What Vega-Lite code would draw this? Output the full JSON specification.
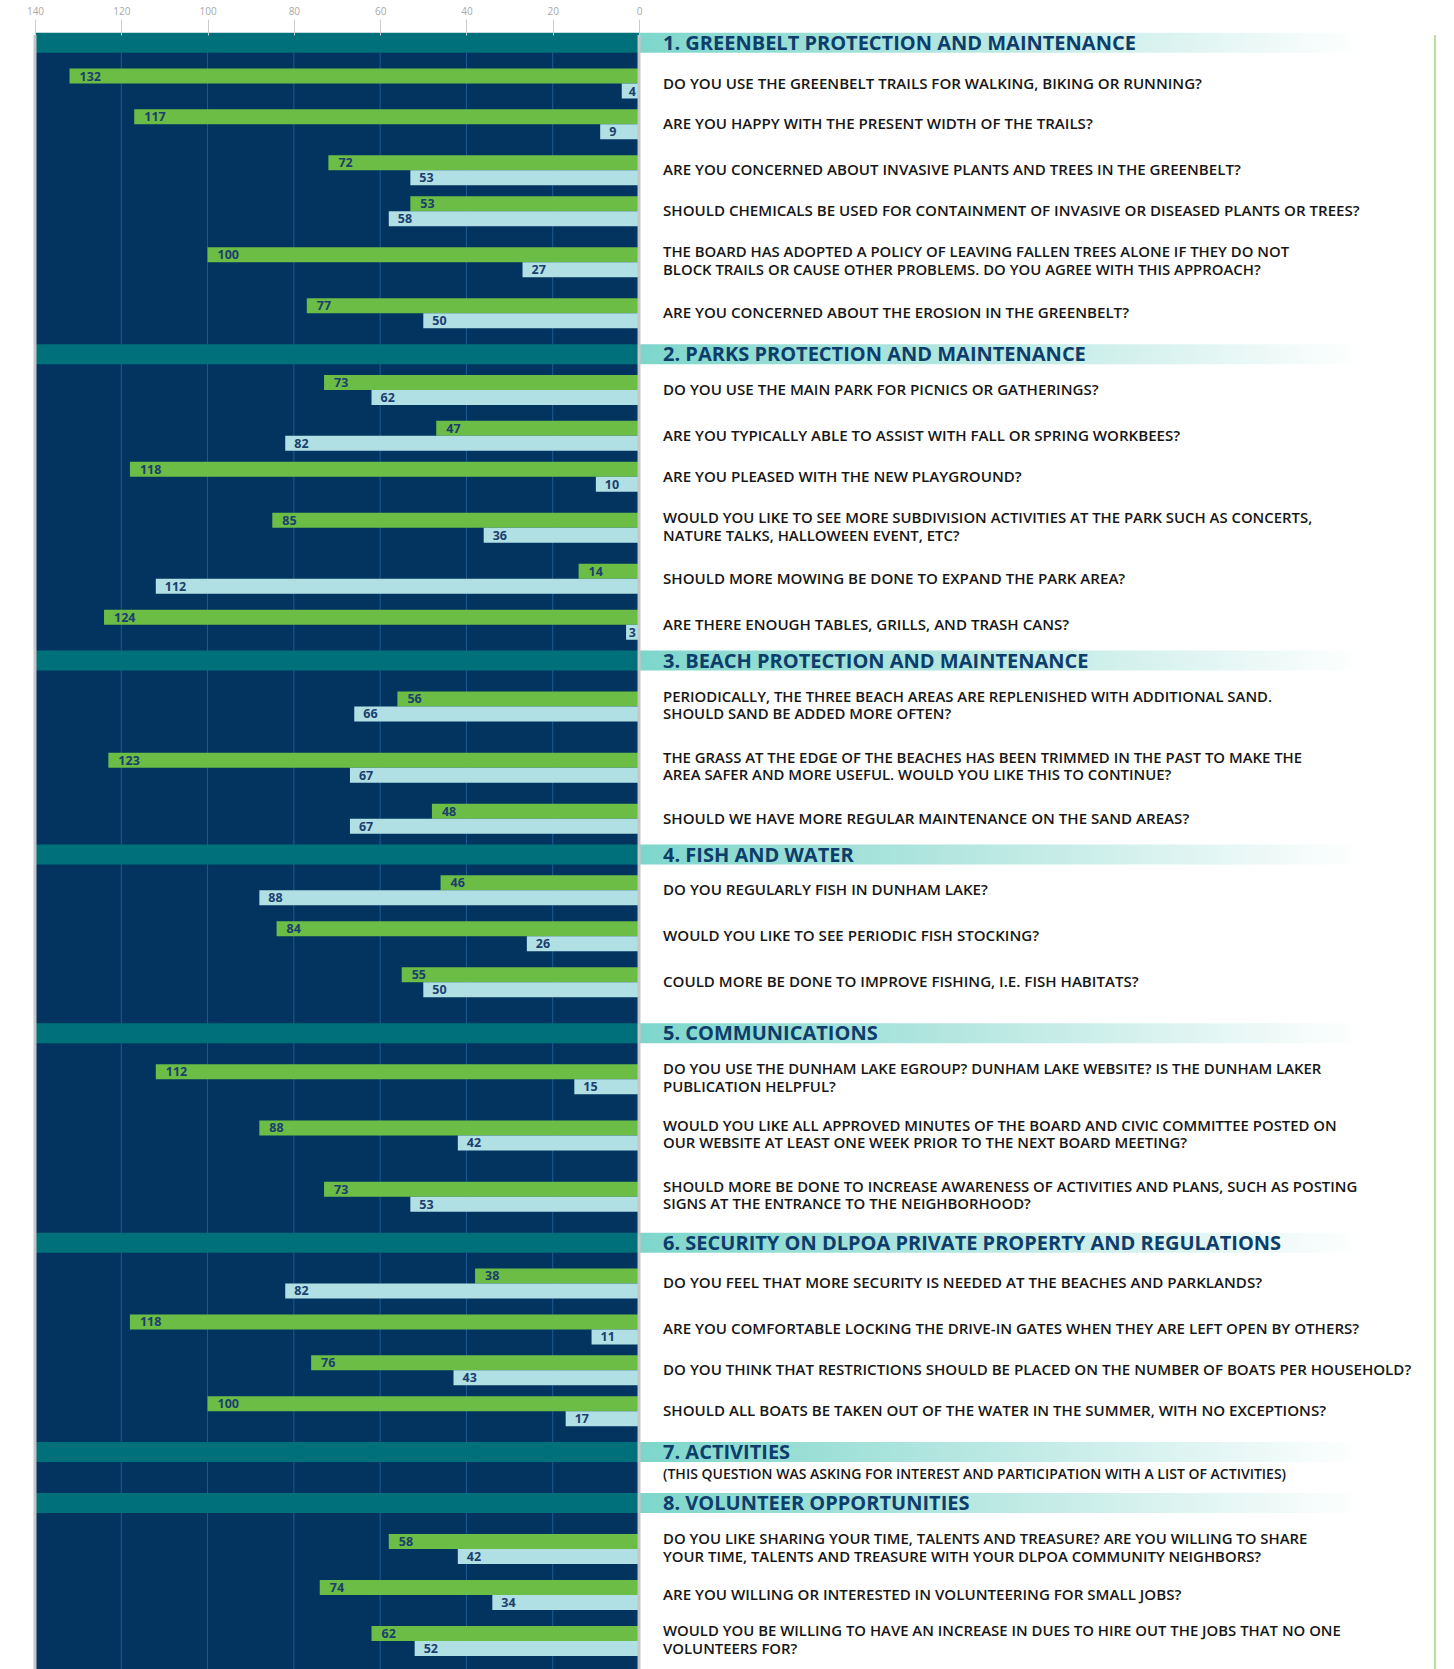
{
  "$schema": "https://vega.github.io/schema/vega-lite/v6.json",
  "width": 1419,
  "height": 1634,
  "autosize": {"type": "none"},
  "padding": {"left": 35, "top": 35, "right": 0, "bottom": 0},
  "background": "#ffffff",
  "config": {"view": {"stroke": null}},
  "datasets": {
    "frame": [{"a": 140, "b": 0}],
    "grid": [{"v": 20}, {"v": 40}, {"v": 60}, {"v": 80}, {"v": 100}, {"v": 120}],
    "edges": [{"v": 0}, {"v": 140}],
    "h": [
      {"id": "h1", "title": "1. GREENBELT PROTECTION AND MAINTENANCE"},
      {"id": "h2", "title": "2. PARKS PROTECTION AND MAINTENANCE"},
      {"id": "h3", "title": "3. BEACH PROTECTION AND MAINTENANCE"},
      {"id": "h4", "title": "4. FISH AND WATER"},
      {"id": "h5", "title": "5. COMMUNICATIONS"},
      {"id": "h6", "title": "6. SECURITY ON DLPOA PRIVATE PROPERTY AND REGULATIONS"},
      {"id": "h7", "title": "7. ACTIVITIES"},
      {"id": "h8", "title": "8. VOLUNTEER OPPORTUNITIES"}
    ],
    "n": [
      {"id": "n7", "note": "(THIS QUESTION WAS ASKING FOR INTEREST AND PARTICIPATION WITH A LIST OF ACTIVITIES)"}
    ],
    "q": [
      {"id": "q1", "section": 1, "question": "DO YOU USE THE GREENBELT TRAILS FOR WALKING, BIKING OR RUNNING?", "yes": 132, "no": 4},
      {"id": "q2", "section": 1, "question": "ARE YOU HAPPY WITH THE PRESENT WIDTH OF THE TRAILS?", "yes": 117, "no": 9},
      {"id": "q3", "section": 1, "question": "ARE YOU CONCERNED ABOUT INVASIVE PLANTS AND TREES IN THE GREENBELT?", "yes": 72, "no": 53},
      {"id": "q4", "section": 1, "question": "SHOULD CHEMICALS BE USED FOR CONTAINMENT OF INVASIVE OR DISEASED PLANTS OR TREES?", "yes": 53, "no": 58},
      {"id": "q5", "section": 1, "question": "THE BOARD HAS ADOPTED A POLICY OF LEAVING FALLEN TREES ALONE IF THEY DO NOT\nBLOCK TRAILS OR CAUSE OTHER PROBLEMS. DO YOU AGREE WITH THIS APPROACH?", "yes": 100, "no": 27},
      {"id": "q6", "section": 1, "question": "ARE YOU CONCERNED ABOUT THE EROSION IN THE GREENBELT?", "yes": 77, "no": 50},
      {"id": "q7", "section": 2, "question": "DO YOU USE THE MAIN PARK FOR PICNICS OR GATHERINGS?", "yes": 73, "no": 62},
      {"id": "q8", "section": 2, "question": "ARE YOU TYPICALLY ABLE TO ASSIST WITH FALL OR SPRING WORKBEES?", "yes": 47, "no": 82},
      {"id": "q9", "section": 2, "question": "ARE YOU PLEASED WITH THE NEW PLAYGROUND?", "yes": 118, "no": 10},
      {"id": "q10", "section": 2, "question": "WOULD YOU LIKE TO SEE MORE SUBDIVISION ACTIVITIES AT THE PARK SUCH AS CONCERTS,\nNATURE TALKS, HALLOWEEN EVENT, ETC?", "yes": 85, "no": 36},
      {"id": "q11", "section": 2, "question": "SHOULD MORE MOWING BE DONE TO EXPAND THE PARK AREA?", "yes": 14, "no": 112},
      {"id": "q12", "section": 2, "question": "ARE THERE ENOUGH TABLES, GRILLS, AND TRASH CANS?", "yes": 124, "no": 3},
      {"id": "q13", "section": 3, "question": "PERIODICALLY, THE THREE BEACH AREAS ARE REPLENISHED WITH ADDITIONAL SAND.\nSHOULD SAND BE ADDED MORE OFTEN?", "yes": 56, "no": 66},
      {"id": "q14", "section": 3, "question": "THE GRASS AT THE EDGE OF THE BEACHES HAS BEEN TRIMMED IN THE PAST TO MAKE THE\nAREA SAFER AND MORE USEFUL. WOULD YOU LIKE THIS TO CONTINUE?", "yes": 123, "no": 67},
      {"id": "q15", "section": 3, "question": " SHOULD WE HAVE MORE REGULAR MAINTENANCE ON THE SAND AREAS?", "yes": 48, "no": 67},
      {"id": "q16", "section": 4, "question": "DO YOU REGULARLY FISH IN DUNHAM LAKE?", "yes": 46, "no": 88},
      {"id": "q17", "section": 4, "question": "WOULD YOU LIKE TO SEE PERIODIC FISH STOCKING?", "yes": 84, "no": 26},
      {"id": "q18", "section": 4, "question": "COULD MORE BE DONE TO IMPROVE FISHING, I.E. FISH HABITATS?", "yes": 55, "no": 50},
      {"id": "q19", "section": 5, "question": "DO YOU USE THE DUNHAM LAKE EGROUP? DUNHAM LAKE WEBSITE? IS THE DUNHAM LAKER\nPUBLICATION HELPFUL?", "yes": 112, "no": 15},
      {"id": "q20", "section": 5, "question": "WOULD YOU LIKE ALL APPROVED MINUTES OF THE BOARD AND CIVIC COMMITTEE POSTED ON\nOUR WEBSITE AT LEAST ONE WEEK PRIOR TO THE NEXT BOARD MEETING?", "yes": 88, "no": 42},
      {"id": "q21", "section": 5, "question": "SHOULD MORE BE DONE TO INCREASE AWARENESS OF ACTIVITIES AND PLANS, SUCH AS POSTING\nSIGNS AT THE ENTRANCE TO THE NEIGHBORHOOD?", "yes": 73, "no": 53},
      {"id": "q22", "section": 6, "question": "DO YOU FEEL THAT MORE SECURITY IS NEEDED AT THE BEACHES AND PARKLANDS?", "yes": 38, "no": 82},
      {"id": "q23", "section": 6, "question": "ARE YOU COMFORTABLE LOCKING THE DRIVE-IN GATES WHEN THEY ARE LEFT OPEN BY OTHERS?", "yes": 118, "no": 11},
      {"id": "q24", "section": 6, "question": "DO YOU THINK THAT RESTRICTIONS SHOULD BE PLACED ON THE NUMBER OF BOATS PER HOUSEHOLD?", "yes": 76, "no": 43},
      {"id": "q25", "section": 6, "question": "SHOULD ALL BOATS BE TAKEN OUT OF THE WATER IN THE SUMMER, WITH NO EXCEPTIONS?", "yes": 100, "no": 17},
      {"id": "q26", "section": 8, "question": "DO YOU LIKE SHARING YOUR TIME, TALENTS AND TREASURE? ARE YOU WILLING TO SHARE\nYOUR TIME, TALENTS AND TREASURE WITH YOUR DLPOA COMMUNITY NEIGHBORS?", "yes": 58, "no": 42},
      {"id": "q27", "section": 8, "question": "ARE YOU WILLING OR INTERESTED IN VOLUNTEERING FOR SMALL JOBS?", "yes": 74, "no": 34},
      {"id": "q28", "section": 8, "question": "WOULD YOU BE WILLING TO HAVE AN INCREASE IN DUES TO HIRE OUT THE JOBS THAT NO ONE\nVOLUNTEERS FOR?", "yes": 62, "no": 52}
    ]
  },
  "layer": [
    {
      "data": {"name": "frame"},
      "mark": {"type": "rect", "color": "#02345f"},
      "encoding": {
        "x": {"field": "a", "type": "quantitative",
          "scale": {"domain": [-188.9, 140], "reverse": true, "nice": false, "zero": false},
          "axis": {"orient": "top", "values": [0, 20, 40, 60, 80, 100, 120, 140], "grid": false, "domain": false,
            "tickSize": 16, "tickColor": "#cccccc", "tickWidth": 1, "labelColor": "#a8a8a8", "labelFontSize": 10,
            "labelFont": "Open Sans", "labelPadding": 3, "title": null, "labelFlush": false, "zindex": 1}},
        "x2": {"field": "b"}
      }
    },
    {
      "data": {"name": "grid"},
      "mark": {"type": "rule", "color": "#1e5a96", "strokeWidth": 1},
      "encoding": {
        "x": {"field": "v", "type": "quantitative", "scale": {"domain": [-188.9, 140], "reverse": true, "nice": false, "zero": false}}
      }
    },
    {
      "encoding": {
        "y": {"field": "id", "type": "nominal", "axis": null,
          "scale": {"paddingInner": 0, "paddingOuter": 0, "domain": [
"_0","h1","_2","_3","_4","_5","_6","_7","_8","q1",
"_10","_11","_12","_13","_14","_15","_16","q2","_18","_19",
"_20","_21","_22","_23","_24","_25","q3","_27","_28","_29",
"_30","_31","_32","_33","q4","_35","_36","_37","_38","_39",
"_40","_41","_42","_43","q5","_45","_46","_47","_48","_49",
"_50","_51","_52","_53","q6","_55","_56","_57","_58","_59",
"_60","_61","h2","_63","_64","_65","_66","_67","_68","q7",
"_70","_71","_72","_73","_74","_75","_76","_77","q8","_79",
"_80","_81","_82","_83","_84","_85","q9","_87","_88","_89",
"_90","_91","_92","_93","_94","_95","q10","_97","_98","_99",
"_100","_101","_102","_103","_104","_105","q11","_107","_108","_109",
"_110","_111","_112","_113","_114","q12","_116","_117","_118","_119",
"_120","_121","h3","_123","_124","_125","_126","_127","_128","_129",
"_130","q13","_132","_133","_134","_135","_136","_137","_138","_139",
"_140","_141","_142","q14","_144","_145","_146","_147","_148","_149",
"_150","_151","_152","q15","_154","_155","_156","_157","_158","_159",
"h4","_161","_162","_163","_164","_165","_166","q16","_168","_169",
"_170","_171","_172","_173","_174","_175","q17","_177","_178","_179",
"_180","_181","_182","_183","_184","q18","_186","_187","_188","_189",
"_190","_191","_192","_193","_194","h5","_196","_197","_198","_199",
"_200","_201","_202","_203","q19","_205","_206","_207","_208","_209",
"_210","_211","_212","_213","_214","q20","_216","_217","_218","_219",
"_220","_221","_222","_223","_224","_225","_226","q21","_228","_229",
"_230","_231","_232","_233","_234","_235","h6","_237","_238","_239",
"_240","_241","_242","_243","q22","_245","_246","_247","_248","_249",
"_250","_251","_252","q23","_254","_255","_256","_257","_258","_259",
"_260","q24","_262","_263","_264","_265","_266","_267","_268","q25",
"_270","_271","_272","_273","_274","_275","_276","h7","_278","_279",
"_280","n7","_282","_283","_284","_285","_286","h8","_288","_289",
"_290","_291","_292","_293","_294","_295","q26","_297","_298","_299",
"_300","_301","_302","_303","_304","q27","_306","_307","_308","_309",
"_310","_311","_312","_313","q28","_315","_316","_317","_318","_319"
          ]}}
      },
      "layer": [
        {
          "data": {"name": "h"},
          "mark": {"type": "bar", "height": 20, "color": "#00717a"},
          "encoding": {
            "x": {"datum": 140, "type": "quantitative", "scale": {"domain": [-188.9, 140], "reverse": true, "nice": false, "zero": false}},
            "x2": {"datum": 0}
          }
        },
        {
          "data": {"name": "h"},
          "mark": {"type": "bar", "height": 20,
            "fill": {"gradient": "linear", "x1": 0, "x2": 1, "y1": 0, "y2": 0,
              "stops": [{"offset": 0, "color": "#7dd6cb"}, {"offset": 0.5, "color": "#bce9e3"}, {"offset": 1, "color": "#ffffff"}]}},
          "encoding": {
            "x": {"datum": 0, "type": "quantitative", "scale": {"domain": [-188.9, 140], "reverse": true, "nice": false, "zero": false}},
            "x2": {"datum": -167.6}
          }
        },
        {
          "data": {"name": "q"},
          "mark": {"type": "bar", "height": 15, "yOffset": -7.5, "color": "#6cbd45"},
          "encoding": {
            "x": {"field": "yes", "type": "quantitative", "scale": {"domain": [-188.9, 140], "reverse": true, "nice": false, "zero": false}},
            "x2": {"datum": 0}
          }
        },
        {
          "data": {"name": "q"},
          "mark": {"type": "bar", "height": 15, "yOffset": 7.5, "color": "#b0dfe4"},
          "encoding": {
            "x": {"field": "no", "type": "quantitative", "scale": {"domain": [-188.9, 140], "reverse": true, "nice": false, "zero": false}},
            "x2": {"datum": 0}
          }
        },
        {
          "data": {"name": "q"},
          "mark": {"type": "text", "align": "left", "baseline": "middle", "dx": 10, "yOffset": -7, "font": "Open Sans", "fontWeight": "bold", "fontSize": 12.5, "color": "#1b3f6e"},
          "encoding": {
            "x": {"field": "yes", "type": "quantitative", "scale": {"domain": [-188.9, 140], "reverse": true, "nice": false, "zero": false}},
            "text": {"field": "yes"}
          }
        },
        {
          "data": {"name": "q"},
          "transform": [{"filter": "datum.no >= 5"}],
          "mark": {"type": "text", "align": "left", "baseline": "middle", "dx": 9, "yOffset": 8, "font": "Open Sans", "fontWeight": "bold", "fontSize": 12.5, "color": "#1b3f6e"},
          "encoding": {
            "x": {"field": "no", "type": "quantitative", "scale": {"domain": [-188.9, 140], "reverse": true, "nice": false, "zero": false}},
            "text": {"field": "no"}
          }
        },
        {
          "data": {"name": "q"},
          "transform": [{"filter": "datum.no < 5"}],
          "mark": {"type": "text", "align": "right", "baseline": "middle", "dx": -3, "yOffset": 8, "font": "Open Sans", "fontWeight": "bold", "fontSize": 12.5, "color": "#1b3f6e"},
          "encoding": {
            "x": {"datum": 0, "type": "quantitative", "scale": {"domain": [-188.9, 140], "reverse": true, "nice": false, "zero": false}},
            "text": {"field": "no"}
          }
        },
        {
          "data": {"name": "q"},
          "transform": [{"filter": "indexof(datum.question, '\\n') < 0"}],
          "mark": {"type": "text", "align": "left", "baseline": "middle", "dx": 24, "font": "Open Sans", "fontWeight": 600, "fontSize": 15.1, "color": "#161616"},
          "encoding": {
            "x": {"datum": 0, "type": "quantitative", "scale": {"domain": [-188.9, 140], "reverse": true, "nice": false, "zero": false}},
            "text": {"field": "question"}
          }
        },
        {
          "data": {"name": "q"},
          "transform": [{"filter": "indexof(datum.question, '\\n') >= 0"}],
          "mark": {"type": "text", "align": "left", "baseline": "middle", "dx": 24, "dy": -8.75, "lineBreak": "\n", "lineHeight": 17.5, "font": "Open Sans", "fontWeight": 600, "fontSize": 14.9, "color": "#161616"},
          "encoding": {
            "x": {"datum": 0, "type": "quantitative", "scale": {"domain": [-188.9, 140], "reverse": true, "nice": false, "zero": false}},
            "text": {"field": "question"}
          }
        },
        {
          "data": {"name": "h"},
          "mark": {"type": "text", "align": "left", "baseline": "middle", "dx": 24, "dy": 1, "font": "Open Sans", "fontWeight": "bold", "fontSize": 20, "color": "#0d3d6b"},
          "encoding": {
            "x": {"datum": 0, "type": "quantitative", "scale": {"domain": [-188.9, 140], "reverse": true, "nice": false, "zero": false}},
            "text": {"field": "title"}
          }
        },
        {
          "data": {"name": "n"},
          "mark": {"type": "text", "align": "left", "baseline": "middle", "dx": 24, "dy": 2.5, "font": "Open Sans", "fontWeight": 600, "fontSize": 14, "color": "#161616"},
          "encoding": {
            "x": {"datum": 0, "type": "quantitative", "scale": {"domain": [-188.9, 140], "reverse": true, "nice": false, "zero": false}},
            "text": {"field": "note"}
          }
        }
      ]
    },
    {
      "data": {"name": "edges"},
      "mark": {"type": "rule", "color": "#c6c6c6", "strokeWidth": 3},
      "encoding": {
        "x": {"field": "v", "type": "quantitative", "scale": {"domain": [-188.9, 140], "reverse": true, "nice": false, "zero": false}}
      }
    },
    {
      "data": {"name": "frame"},
      "mark": {"type": "rule", "color": "#bcdca0", "strokeWidth": 2},
      "encoding": {
        "x": {"datum": -184.5, "type": "quantitative", "scale": {"domain": [-188.9, 140], "reverse": true, "nice": false, "zero": false}}
      }
    }
  ]
}
